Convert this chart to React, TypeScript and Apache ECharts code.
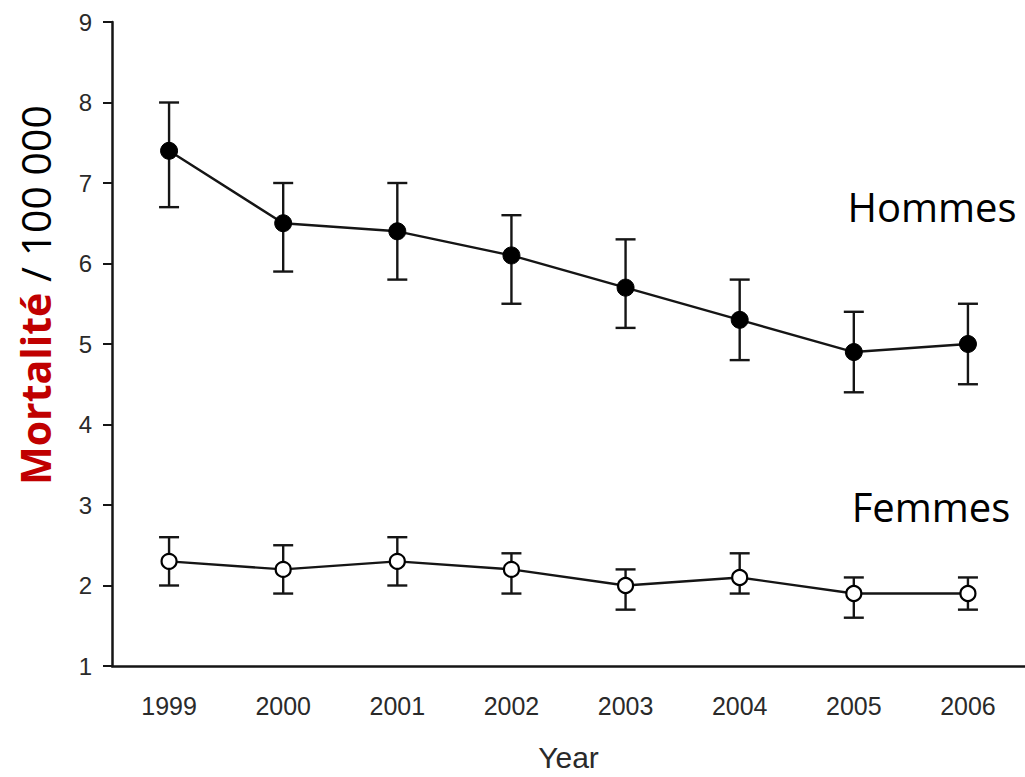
import React, { useEffect, useRef } from "react";
import * as echarts from "echarts";

const years = ["1999", "2000", "2001", "2002", "2003", "2004", "2005", "2006"];
const hommesMean = [7.4, 6.5, 6.4, 6.1, 5.7, 5.3, 4.9, 5.0];
const hommesLow = [6.7, 5.9, 5.8, 5.5, 5.2, 4.8, 4.4, 4.5];
const hommesHigh = [8.0, 7.0, 7.0, 6.6, 6.3, 5.8, 5.4, 5.5];
const femmesMean = [2.3, 2.2, 2.3, 2.2, 2.0, 2.1, 1.9, 1.9];
const femmesLow = [2.0, 1.9, 2.0, 1.9, 1.7, 1.9, 1.6, 1.7];
const femmesHigh = [2.6, 2.5, 2.6, 2.4, 2.2, 2.4, 2.1, 2.1];

const errorRender = (params: any, api: any) => {
  const x = api.value(0);
  const lo = api.value(1);
  const hi = api.value(2);
  const top = api.coord([x, hi]);
  const bot = api.coord([x, lo]);
  const hw = 10;
  const style = { stroke: "#151515", lineWidth: 2.4 };
  return {
    type: "group",
    children: [
      { type: "line", shape: { x1: top[0], y1: top[1], x2: bot[0], y2: bot[1] }, style },
      { type: "line", shape: { x1: top[0] - hw, y1: top[1], x2: top[0] + hw, y2: top[1] }, style },
      { type: "line", shape: { x1: bot[0] - hw, y1: bot[1], x2: bot[0] + hw, y2: bot[1] }, style },
    ],
  };
};

export default function App() {
  const ref = useRef<HTMLDivElement>(null);
  useEffect(() => {
    if (!ref.current) return;
    document.documentElement.style.margin = "0";
    document.documentElement.style.overflow = "hidden";
    document.body.style.margin = "0";
    document.body.style.overflow = "hidden";
    const chart = echarts.init(ref.current, null, { renderer: "svg", width: 1025, height: 777 });
    const axisColor = "#151515";
    chart.setOption({
      animation: false,
      backgroundColor: "#ffffff",
      grid: { left: 112, right: -2, top: 22, bottom: 94, containLabel: false },
      xAxis: {
        type: "category",
        data: years,
        boundaryGap: true,
        name: "Year",
        nameLocation: "middle",
        nameGap: 76,
        nameTextStyle: { fontFamily: "Liberation Sans", fontSize: 30, color: "#2a2a2a" },
        axisLine: { onZero: false, lineStyle: { color: axisColor, width: 2.5 } },
        axisTick: { alignWithLabel: true, length: 9, lineStyle: { color: axisColor, width: 2 } },
        axisLabel: { margin: 27, fontFamily: "Liberation Sans", fontSize: 25, color: "#2a2a2a" },
        splitLine: { show: false },
      },
      yAxis: {
        type: "value",
        min: 1,
        max: 9,
        interval: 1,
        axisLine: { show: true, lineStyle: { color: axisColor, width: 2.5 } },
        axisTick: { show: true, length: 9, lineStyle: { color: axisColor, width: 2 } },
        axisLabel: { margin: 20, fontFamily: "Liberation Sans", fontSize: 24, color: "#2a2a2a" },
        splitLine: { show: false },
      },
      series: [
        {
          type: "custom",
          renderItem: errorRender,
          data: years.map((_, i) => [i, hommesLow[i], hommesHigh[i]]),
          encode: { x: 0, y: [1, 2] },
          z: 1,
        },
        {
          type: "custom",
          renderItem: errorRender,
          data: years.map((_, i) => [i, femmesLow[i], femmesHigh[i]]),
          encode: { x: 0, y: [1, 2] },
          z: 1,
        },
        {
          name: "Hommes",
          type: "line",
          data: hommesMean,
          symbol: "circle",
          symbolSize: 17,
          lineStyle: { color: "#151515", width: 2.4 },
          itemStyle: { color: "#000", borderColor: "#000", borderWidth: 1 },
          z: 3,
        },
        {
          name: "Femmes",
          type: "line",
          data: femmesMean,
          symbol: "circle",
          symbolSize: 15,
          lineStyle: { color: "#151515", width: 2.4 },
          itemStyle: { color: "#fff", borderColor: "#000", borderWidth: 2.2 },
          z: 3,
        },
      ],
      graphic: [
        {
          type: "text",
          x: 35,
          y: 295,
          rotation: Math.PI / 2,
          style: {
            text: "{a|Mortalité}{b| / 100 000}",
            align: "center",
            verticalAlign: "middle",
            rich: {
              a: { fontFamily: "Open Sans", fontWeight: "bold", fontSize: 41, fill: "#C00000" },
              b: { fontFamily: "Open Sans", fontSize: 41, fill: "#000" },
            },
          },
        },
        {
          type: "text",
          x: 932,
          y: 206,
          style: {
            text: "Hommes",
            align: "center",
            verticalAlign: "middle",
            fontFamily: "Open Sans",
            fontSize: 40,
            fill: "#000",
          },
        },
        {
          type: "text",
          x: 931,
          y: 506,
          style: {
            text: "Femmes",
            align: "center",
            verticalAlign: "middle",
            fontFamily: "Open Sans",
            fontSize: 40,
            fill: "#000",
          },
        },
      ],
    });
    return () => chart.dispose();
  }, []);
  return (
    <div
      ref={ref}
      style={{ position: "absolute", left: 0, top: 0, width: 1025, height: 777, overflow: "hidden" }}
    />
  );
}
